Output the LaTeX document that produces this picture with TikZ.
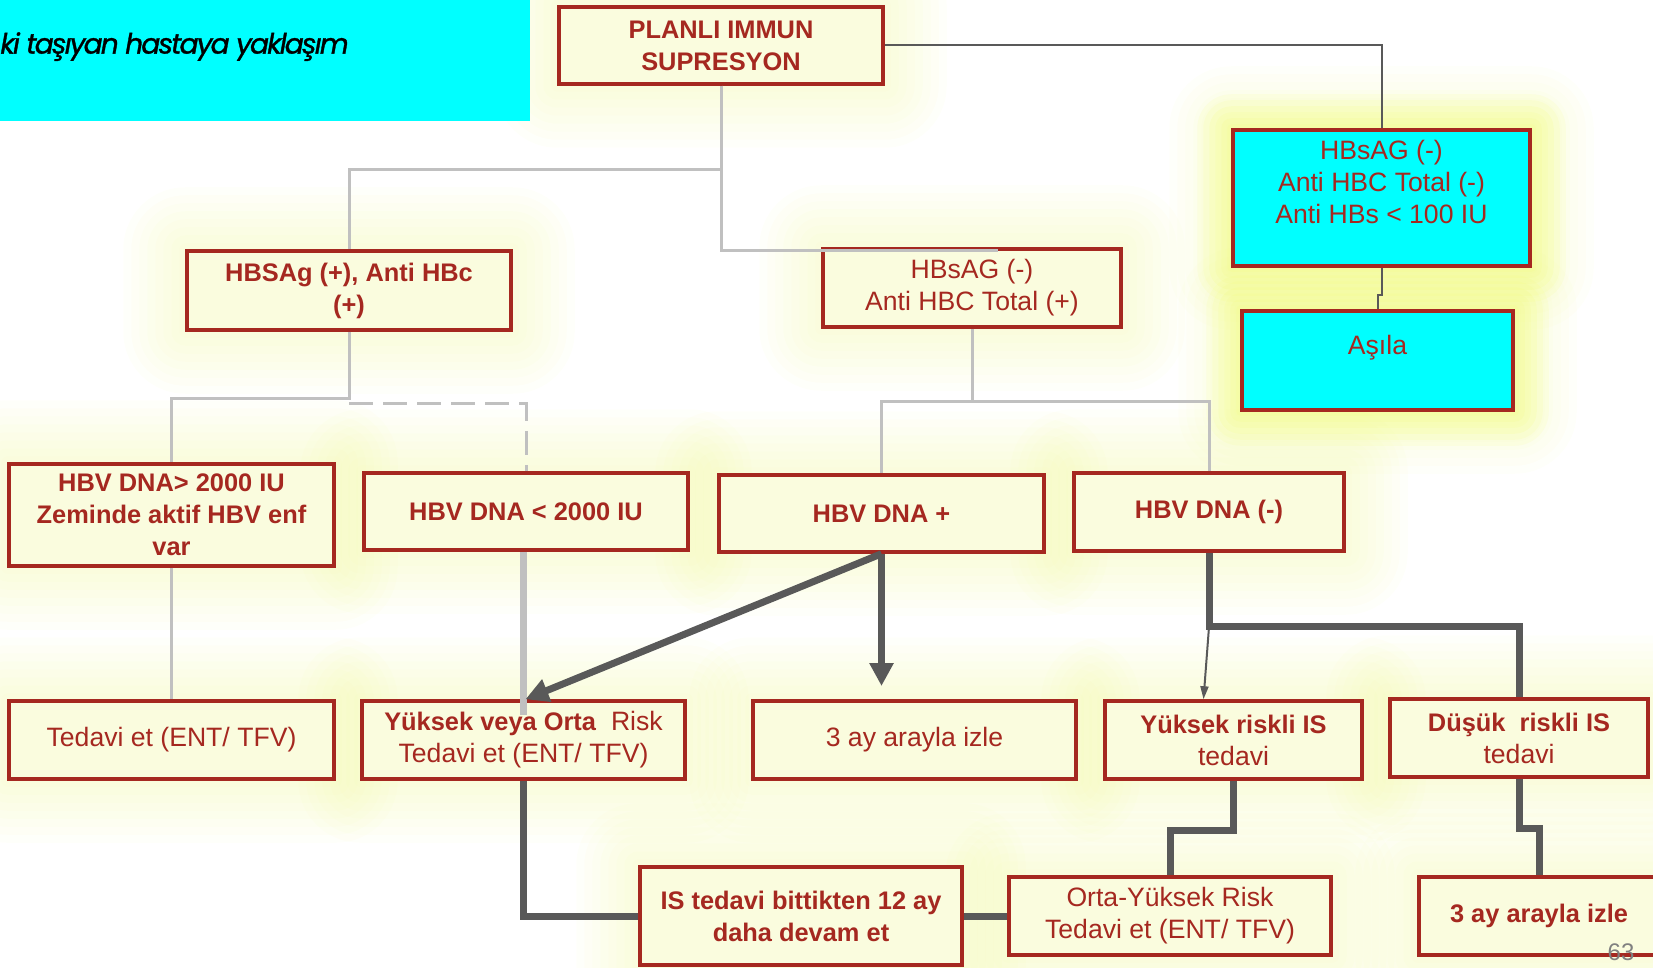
\documentclass[tikz,border=0pt]{standalone}
\usepackage{fontspec}
\setmainfont{Liberation Sans}
\newfontfamily\titlefont{Poppins}[FakeBold=1.2, LetterSpace=-6.5]
\usetikzlibrary{arrows.meta}
\pgfdeclarelayer{background}
\pgfsetlayers{background,main}

\definecolor{boxred}{RGB}{165,40,32}
\definecolor{boxfill}{RGB}{250,252,222}
\definecolor{boxcyan}{RGB}{0,255,255}
\definecolor{glowc}{RGB}{238,246,140}
\definecolor{glowcyan}{RGB}{238,255,95}
\definecolor{linegray}{RGB}{192,192,192}
\definecolor{linedark}{RGB}{89,89,89}
\definecolor{pagegray}{RGB}{128,128,128}

\tikzset{
	box/.style={draw=boxred, line width=1.75pt, fill=boxfill, text=boxred, align=center, inner sep=0pt, font=\fontsize{13.3}{16}\selectfont},
	boldbox/.style={box, font=\fontsize{12.7}{16}\selectfont\bfseries},
	cyanbox/.style={box, fill=boxcyan},
	grayline/.style={draw=linegray, line width=1.5pt},
	thinline/.style={draw=linedark, line width=1pt},
	darkline/.style={draw=linedark, line width=3.5pt},
	darkarrow/.style={darkline, -{Triangle[length=11.5pt,width=11.5pt]}},
	thinarrow/.style={thinline, -{Triangle[length=6.5pt,width=4pt]}}
}

\begin{document}
\begin{tikzpicture}[x=0.5pt,y=-0.5pt]
	\useasboundingbox (0,0) rectangle (1653,968);
	\clip (0,0) rectangle (1653,968);

	% title
	\node[fill=boxcyan, minimum width=265pt, minimum height=60.5pt, anchor=north west, inner sep=0pt](titlebox) at (0,0) {};
	\node[anchor=base west, inner sep=0pt, font=\titlefont\itshape\fontsize{14}{16}\selectfont](title) at (0,53.6) {ki taşıyan hastaya yaklaşım};

	% boxes
	\node[boldbox, minimum width=162pt, minimum height=38.5pt](planli) at (721,45.5) {PLANLI IMMUN\\SUPRESYON};
	\node[cyanbox, minimum width=148.5pt, minimum height=68pt](hbsneg) at (1381.5,198) {HBsAG (-)\\Anti HBC Total (-)\\Anti HBs < 100 IU\\\mbox{}};
	\node[cyanbox, minimum width=135.5pt, minimum height=49.5pt](asila) at (1377.5,360.5) {Aşıla\\\mbox{}};

	\node[boldbox, minimum width=162pt, minimum height=39.5pt](hbspos) at (349,290.5) {HBSAg (+), Anti HBc\\(+)};
	\node[box, minimum width=149pt, minimum height=39pt](hbsanti) at (972,288) {HBsAG (-)\\Anti HBC Total (+)};

	\node[boldbox, minimum width=162.5pt, minimum height=51pt](dnahigh) at (171.5,515) {HBV DNA> 2000 IU\\Zeminde aktif HBV enf\\var};
	\node[boldbox, minimum width=162pt, minimum height=38.5pt](dnalow) at (526,511.5) {HBV DNA < 2000 IU};
	\node[boldbox, minimum width=162.5pt, minimum height=38.5pt](dnapos) at (881.5,513.5) {HBV DNA +};
	\node[boldbox, minimum width=135pt, minimum height=39pt](dnaneg) at (1209,512) {HBV DNA (-)};

	\node[box, minimum width=162.5pt, minimum height=39pt](tedavi) at (171.5,740) {Tedavi et (ENT/ TFV)};
	\node[box, minimum width=161.5pt, minimum height=39pt](yuksekorta) at (523.5,740) {\textbf{\fontsize{12.7}{16}\selectfont Yüksek veya Orta}\ \ Risk\\Tedavi et (ENT/ TFV)};
	\node[box, minimum width=161.5pt, minimum height=39pt](izle) at (914.5,740) {3 ay arayla izle};
	\node[box, minimum width=128.5pt, minimum height=39pt](yuksekis) at (1233.5,740) {\textbf{\fontsize{12.7}{16}\selectfont Yüksek riskli IS}\\tedavi};
	\node[box, minimum width=129pt, minimum height=39pt](dusukis) at (1519,738) {\textbf{\fontsize{12.7}{16}\selectfont Düşük\ \ riskli IS}\\tedavi};

	\node[boldbox, minimum width=161pt, minimum height=49pt](devam) at (801,916) {IS tedavi bittikten 12 ay\\daha devam et};
	\node[box, minimum width=161pt, minimum height=39pt](ortayuksek) at (1170,916) {Orta-Yüksek Risk\\Tedavi et (ENT/ TFV)};
	\node[boldbox, minimum width=120pt, minimum height=39pt](izlebold) at (1539,916) {3 ay arayla izle};

	% glow
	\begin{pgfonlayer}{background}
	\clip (0,0) rectangle (1653,968);
	\foreach \n in {planli,hbsneg,asila,hbspos,hbsanti,dnahigh,dnalow,dnapos,dnaneg,tedavi,yuksekorta,izle,yuksekis,dusukis,devam,ortayuksek,izlebold}
		\foreach \r in {3,7,...,31}
			\fill[glowc, opacity=0.045, rounded corners=\r pt] ([shift={(-\r pt,-\r pt)}]\n.south west) rectangle ([shift={(\r pt,\r pt)}]\n.north east);
	\foreach \n in {hbsneg,asila}
		\foreach \r in {2,5,...,17}
			\fill[glowcyan, opacity=0.09, rounded corners=\r pt] ([shift={(-\r pt,-\r pt)}]\n.south west) rectangle ([shift={(\r pt,\r pt)}]\n.north east);
	\end{pgfonlayer}

	% light connectors
	\draw[grayline](planli.south) -- ++(0,84) -| (hbspos.north);
	\draw[grayline](planli.south) |- ([shift={(26,3)}]hbsanti.north);
	\draw[grayline](hbspos.south) -- ++(0,67) -| (dnahigh.north);
	\draw[grayline, dash pattern=on 12pt off 5pt]([shift={(0,72)}]hbspos.south) -| (dnalow.north);
	\draw[grayline](hbsanti.south) -- ++(0,73) -| (dnapos.north);
	\draw[grayline](hbsanti.south) ++(0,73) -| (dnaneg.north);
	\draw[grayline](dnahigh.south) -- (tedavi.north);
	\draw[grayline, line width=3.5pt](yuksekorta.north |- dnalow.south) -- ([yshift=-8pt]yuksekorta.north);

	% dark connectors
	\draw[thinline](planli.east) -| (hbsneg.north);
	\draw[thinline](hbsneg.south) -- ++(0,27) -| (asila.north);
	\coordinate(izletip) at (881.5,686);
	\draw[darkarrow](dnapos.south) -- ([xshift=1pt]yuksekorta.north);
	\draw[darkarrow](dnapos.south) -- (izletip);
	\draw[darkline](dnaneg.south) -- ++(0,74) -| (dusukis.north);
	\draw[thinarrow]([yshift=-37pt]dnaneg.south) -- ([xshift=-15pt]yuksekis.north);
	\draw[darkline](yuksekorta.south) |- (devam.west);
	\draw[darkline](devam.east) -- (devam.east -| ortayuksek.west);
	\draw[darkline](yuksekis.south) -- ++(0,50) -| (ortayuksek.north);
	\draw[darkline](dusukis.south) -- ++(0,50) -| (izlebold.north);

	\node[text=pagegray, font=\fontsize{12}{14}\selectfont](pagenum) at (1621,952) {63};
\end{tikzpicture}
\end{document}
